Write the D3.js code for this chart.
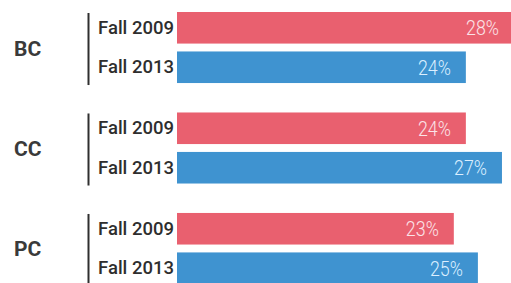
<!DOCTYPE html>
<html>
<head>
<meta charset="utf-8">
<script src="https://cdn.jsdelivr.net/npm/d3@7"></script>
<style>
  body { margin: 0; background: #fff; }
  svg { display: block; }
</style>
</head>
<body>
<svg width="511" height="283"></svg>
<script>
var groups = ["BC", "CC", "PC"];
var terms = ["Fall 2009", "Fall 2013"];
var fall2009 = [28, 24, 23];
var fall2013 = [24, 27, 25];
var colors = ["#e9606f", "#3f93d0"];
var textColors = ["#fbe3e8", "#dcefff"];

var svg = d3.select("svg"),
    width = +svg.attr("width"),
    height = +svg.attr("height");

var x = d3.scaleLinear()
    .domain([0, 28])
    .range([177, 514]);

// each group is a band, the two terms sit inside it
var y = d3.scaleBand()
    .domain(groups)
    .range([12, 284])
    .paddingInner(0.293)
    .paddingOuter(0);

var yInner = d3.scaleBand()
    .domain(terms)
    .range([0, y.bandwidth()])
    .paddingInner(0.2);

var rows = [];
groups.forEach(function(g, i) {
    rows.push({group: g, term: terms[0], value: fall2009[i], k: 0});
    rows.push({group: g, term: terms[1], value: fall2013[i], k: 1});
});

var group = svg.append("g")
    .selectAll("g")
    .data(groups)
    .enter().append("g")
    .attr("transform", function(d) { return "translate(0," + y(d) + ")"; });

group.append("line")
    .attr("x1", 88.5).attr("x2", 88.5)
    .attr("y1", 1).attr("y2", y.bandwidth() + 2)
    .attr("stroke", "#2f2f2f")
    .attr("stroke-width", 2);

group.append("text")
    .attr("x", 14)
    .attr("y", y.bandwidth() / 2 + 8)
    .attr("font-family", "Roboto, 'Liberation Sans', sans-serif")
    .attr("font-weight", 700)
    .attr("font-size", 21)
    .attr("fill", "#3a3a3a")
    .text(function(d) { return d; });

var bar = svg.append("g")
    .selectAll("g")
    .data(rows)
    .enter().append("g")
    .attr("transform", function(d) { return "translate(0," + (y(d.group) + yInner(d.term)) + ")"; });

bar.append("rect")
    .attr("x", x(0))
    .attr("width", function(d) { return x(d.value) - x(0); })
    .attr("height", yInner.bandwidth())
    .attr("fill", function(d) { return colors[d.k]; });

bar.append("text")
    .attr("x", x(0) - 3)
    .attr("y", yInner.bandwidth() / 2 + 6)
    .attr("text-anchor", "end")
    .attr("font-family", "Roboto, 'Liberation Sans', sans-serif")
    .attr("font-weight", 500)
    .attr("font-size", 18.5)
    .attr("fill", "#2e2e2e")
    .text(function(d) { return d.term; });

// condensed look for the values: squeeze Roboto Light horizontally
bar.append("text")
    .attr("transform", function(d) {
        return "translate(" + (x(d.value) - 15) + "," + (yInner.bandwidth() / 2 + 7.5) + ") scale(0.85,1)";
    })
    .attr("text-anchor", "end")
    .attr("font-family", "Roboto, sans-serif")
    .attr("font-weight", 300)
    .attr("font-size", 21)
    .attr("fill", function(d) { return textColors[d.k]; })
    .text(function(d) { return d.value + "%"; });
</script>
</body>
</html>
